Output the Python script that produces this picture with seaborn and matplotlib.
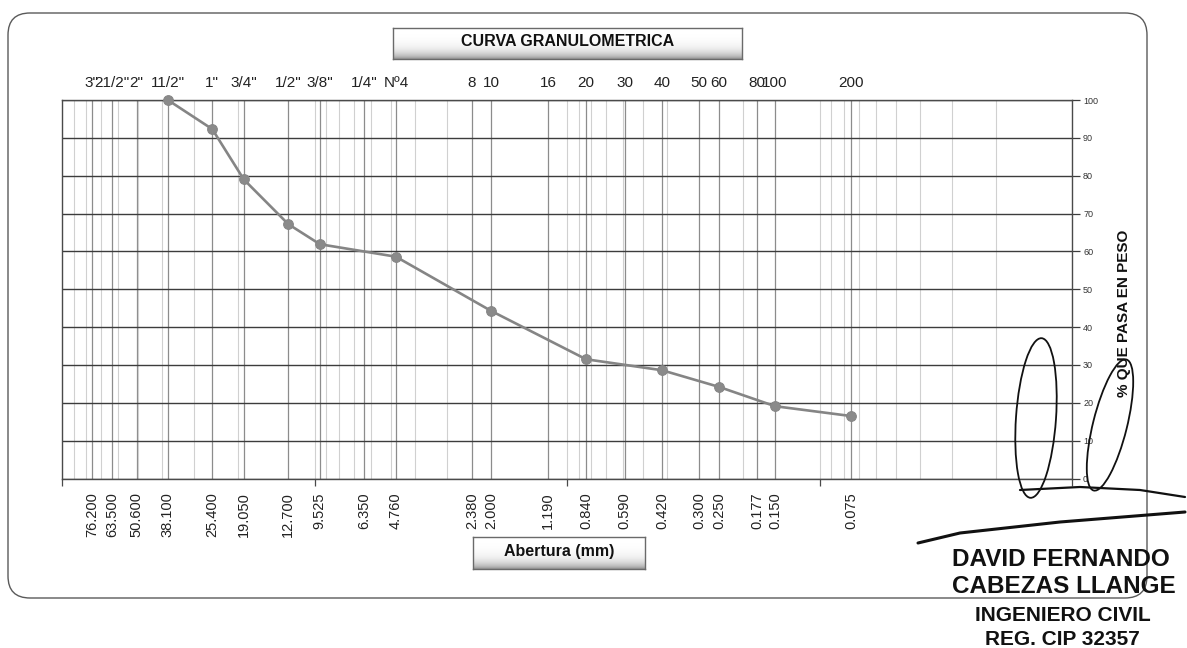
import numpy as np
import pandas as pd
import matplotlib
matplotlib.use("Agg")
import matplotlib.pyplot as plt
import seaborn as sns
from matplotlib.ticker import FixedLocator, LogLocator, NullFormatter, NullLocator
from matplotlib.patches import FancyBboxPatch, Ellipse
from matplotlib.lines import Line2D
from matplotlib.transforms import IdentityTransform

# ASTM sieve series: names (top axis) and openings in mm (bottom axis)
sieve_names = ['3"', '21/2"', '2"', '11/2"', '1"', '3/4"', '1/2"', '3/8"', '1/4"', 'Nº4',
               '8', '10', '16', '20', '30', '40', '50', '60', '80', '100', '200']
sieve_mm = [76.2, 63.5, 50.6, 38.1, 25.4, 19.05, 12.7, 9.525, 6.35, 4.76,
            2.38, 2.0, 1.19, 0.84, 0.59, 0.42, 0.30, 0.25, 0.177, 0.15, 0.075]
sieve_mm_labels = ['76.200', '63.500', '50.600', '38.100', '25.400', '19.050', '12.700',
                   '9.525', '6.350', '4.760', '2.380', '2.000', '1.190', '0.840', '0.590',
                   '0.420', '0.300', '0.250', '0.177', '0.150', '0.075']

# Grading test results
opening_mm = [38.1, 25.4, 19.05, 12.7, 9.525, 4.76, 2.0, 0.84, 0.42, 0.25, 0.15, 0.075]
percent_passing = [100.0, 92.3, 79.0, 67.2, 61.9, 58.6, 44.3, 31.5, 28.6, 24.2, 19.1, 16.5]

y_ticks = list(range(0, 101, 10))
decade_ticks = [100, 10, 1, 0.1, 0.01]

sns.set_theme(style="white")
plt.rcParams['font.family'] = ['Liberation Sans', 'DejaVu Sans']

W, H = 1187, 648
fig = plt.figure(figsize=(W / 100, H / 100), dpi=100)
fig.patch.set_facecolor("white")


def frac_box(x0, y0, x1, y1):
    """Pixel box (top-left origin) to figure fractions [left, bottom, width, height]."""
    return [x0 / W, 1 - y1 / H, (x1 - x0) / W, (y1 - y0) / H]


ax = fig.add_axes(frac_box(62, 100, 1072, 478.5))
ax.set_facecolor("white")

df = pd.DataFrame({"abertura": opening_mm, "pasa": percent_passing})
sns.lineplot(data=df, x="abertura", y="pasa", ax=ax, color="#858585", linewidth=1.9,
             marker="o", markersize=7, markeredgecolor="#858585", markerfacecolor="#8a8a8a",
             errorbar=None, zorder=5, clip_on=False)

ax.set_xscale("log")
ax.set_xlim(100, 0.01)
ax.set_ylim(0, 100)
ax.set_xlabel("")

# bottom: opening labels at each sieve, light log grid in between
ax.xaxis.set_major_locator(FixedLocator(sieve_mm))
ax.set_xticklabels(sieve_mm_labels, rotation=90, fontsize=10.5, color="#222222")
ax.xaxis.set_minor_locator(LogLocator(base=10, subs=np.arange(1, 10), numticks=20))
ax.xaxis.set_minor_formatter(NullFormatter())
ax.tick_params(axis="x", which="both", length=0, pad=10)
ax.grid(which="minor", axis="x", color="#d0d0d0", linewidth=0.8)
ax.grid(which="major", axis="x", color="#8c8c8c", linewidth=0.9)
ax.grid(which="major", axis="y", color="#3c3c3c", linewidth=1.0)

# right: percent passing
ax.yaxis.tick_right()
ax.set_yticks(y_ticks)
ax.set_yticklabels([str(v) for v in y_ticks], fontsize=6.5, color="#333333")
ax.tick_params(axis="y", which="major", length=6, width=0.9, color="#3c3c3c", pad=2, right=True, left=False)
ax.yaxis.set_label_position("right")
ax.set_ylabel("% QUE PASA EN PESO", fontsize=11, fontweight="bold", color="#111111")
ax.yaxis.set_label_coords(1.045, 0.437)

for sp in ax.spines.values():
    sp.set_visible(True)
    sp.set_color("#4a4a4a")
    sp.set_linewidth(1.0)

# top: sieve designations
ax_top = ax.secondary_xaxis("top")
ax_top.set_xticks(sieve_mm)
ax_top.set_xticklabels(sieve_names, fontsize=11, color="#222222")
ax_top.xaxis.set_minor_locator(NullLocator())
ax_top.tick_params(axis="x", which="both", length=0, pad=7)
ax_top.spines["top"].set_visible(False)

# bottom decade tick marks
ax_dec = ax.secondary_xaxis("bottom")
ax_dec.set_xticks(decade_ticks)
ax_dec.set_xticklabels([""] * len(decade_ticks))
ax_dec.xaxis.set_minor_locator(NullLocator())
ax_dec.tick_params(axis="x", which="major", length=5, width=0.9, color="#4a4a4a")
ax_dec.spines["bottom"].set_visible(False)


def header_box(x0, y0, x1, y1, text):
    bax = fig.add_axes(frac_box(x0, y0, x1, y1))
    shade = 0.5 * np.linspace(0, 1, 64) ** 3
    bax.imshow(shade[:, None], aspect="auto", cmap="Greys", vmin=0, vmax=1,
               extent=[0, 1, 0, 1], interpolation="bilinear")
    bax.set_xticks([])
    bax.set_yticks([])
    for sp in bax.spines.values():
        sp.set_color("#6a6a6a")
        sp.set_linewidth(1.0)
    bax.text(0.5, 0.55, text, ha="center", va="center", fontsize=11.5,
             fontweight="bold", color="#111111", transform=bax.transAxes)


header_box(393, 28, 742, 59, "CURVA GRANULOMETRICA")
header_box(473, 537, 645, 569, "Abertura (mm)")

# rounded outer frame of the chart
px = IdentityTransform()
fig.add_artist(FancyBboxPatch((8, H - 598), 1139, 585,
                              boxstyle="round,pad=0,rounding_size=22",
                              transform=px, fill=False, edgecolor="#5a5a5a", linewidth=1.0))

# signature and stamp
ink = "#111111"
fig.add_artist(Ellipse((1036, H - 418), 40, 160, angle=-4, transform=px,
                       fill=False, edgecolor=ink, linewidth=1.3))
fig.add_artist(Ellipse((1110, H - 425), 34, 135, angle=-14, transform=px,
                       fill=False, edgecolor=ink, linewidth=1.3))
fig.add_artist(Line2D([1020, 1080, 1140, 1185], [H - 490, H - 487, H - 490, H - 497],
                      transform=px, color=ink, linewidth=1.6))
fig.add_artist(Line2D([918, 960, 1060, 1185], [H - 543, H - 533, H - 522, H - 512],
                      transform=px, color=ink, linewidth=2.2))

stamp = [("DAVID FERNANDO", 952, 566, 17.5),
         ("CABEZAS LLANGE", 952, 593, 17.5),
         ("INGENIERO CIVIL", 975, 621, 15),
         ("REG. CIP 32357", 985, 645, 15)]
for txt, x, y, fs in stamp:
    fig.text(x / W, 1 - y / H, txt, ha="left", va="baseline", fontsize=fs,
             fontweight="bold", color=ink)

fig.savefig("out.png", dpi=100, facecolor="white")
